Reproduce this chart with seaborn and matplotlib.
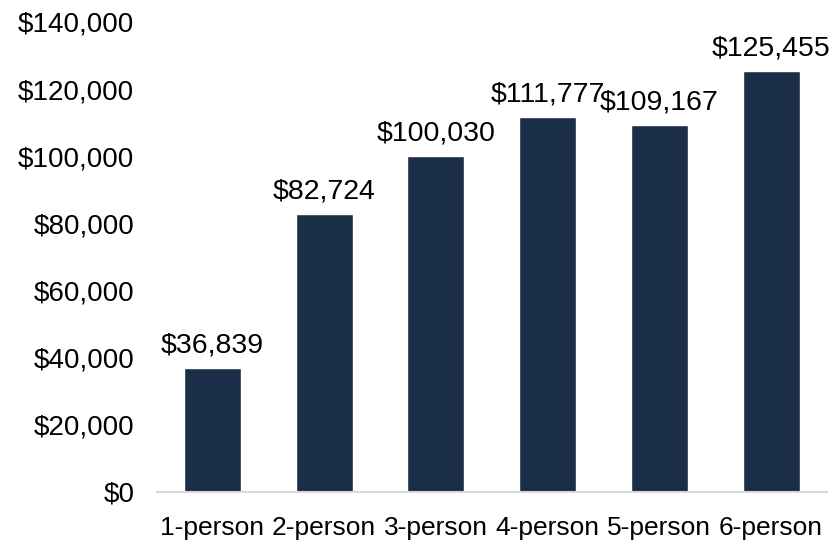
import matplotlib
matplotlib.use("Agg")
import matplotlib.pyplot as plt
import seaborn as sns
import pandas as pd
from matplotlib.ticker import FuncFormatter

# Data
household_size = ["1-person", "2-person", "3-person", "4-person", "5-person", "6-person"]
median_income = [36839, 82724, 100030, 111777, 109167, 125455]

df = pd.DataFrame({"size": household_size, "income": median_income})

sns.set_style("white")
plt.rcParams["font.family"] = ["Liberation Sans", "DejaVu Sans"]

fig = plt.figure(figsize=(8.4, 5.44), dpi=100)
ax = fig.add_axes([0.1864, 0.0956, 0.798, 0.864])

sns.barplot(data=df, x="size", y="income", color="#1B2E47", width=0.51,
            saturation=1, ax=ax)

# value labels above bars
for i, v in enumerate(median_income):
    ax.annotate(f"${v:,.0f}", (i, v), xytext=(0, 7), textcoords="offset points",
                ha="center", va="bottom", fontsize=20.5, color="#000000")

ax.set_xlim(-0.5, 5.5)
ax.set_ylim(0, 140000)
ax.set_yticks(range(0, 140001, 20000))
ax.yaxis.set_major_formatter(FuncFormatter(lambda x, p: f"${x:,.0f}"))
ax.set_xlabel("")
ax.set_ylabel("")
ax.tick_params(axis="both", length=0, colors="#000000")
ax.tick_params(axis="y", labelsize=20, pad=16)
ax.tick_params(axis="x", labelsize=19, pad=17)

for s in ["top", "right", "left"]:
    ax.spines[s].set_visible(False)
ax.spines["bottom"].set_color("#D9D9D9")
ax.spines["bottom"].set_linewidth(1.5)

fig.savefig("out.png", dpi=100)
